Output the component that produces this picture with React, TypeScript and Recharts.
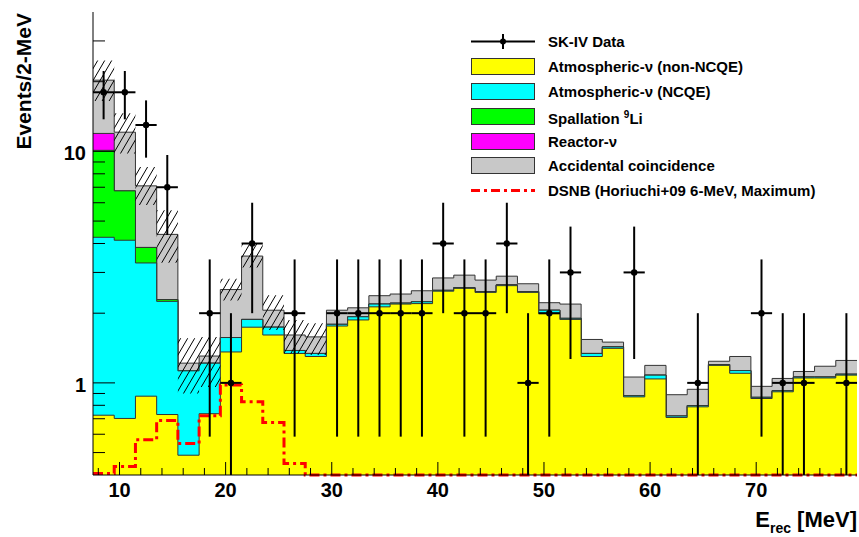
import React from 'react';
import { ComposedChart, Area, Line, Scatter, ErrorBar, XAxis, YAxis, Legend } from 'recharts';

const FONT = '"Liberation Sans", Arial, Helvetica, sans-serif';

// Reconstructed-energy bins (2 MeV wide, 7.5–79.5 MeV), given by their centres
const binCenters = [
  8.5, 10.5, 12.5, 14.5, 16.5, 18.5, 20.5, 22.5, 24.5, 26.5, 28.5, 30.5,
  32.5, 34.5, 36.5, 38.5, 40.5, 42.5, 44.5, 46.5, 48.5, 50.5, 52.5, 54.5,
  56.5, 58.5, 60.5, 62.5, 64.5, 66.5, 68.5, 70.5, 72.5, 74.5, 76.5, 78.5,
];
const BIN_HALF_WIDTH = 1;

// Expected background per bin, one array per component (stacked bottom to top)
const atmNonNCQE = [
  0.725, 0.702, 0.876, 0.73, 0.487, 0.736, 1.36, 1.74, 1.61, 1.34, 1.3, 1.76,
  1.87, 2.13, 2.19, 2.2, 2.49, 2.56, 2.46, 2.63, 2.46, 1.99, 1.88, 1.3,
  1.41, 0.87, 1.04, 0.709, 0.788, 1.19, 1.1, 0.856, 0.915, 1.05, 1.05, 1.08,
];
const atmNCQE = [
  3.53, 3.43, 2.42, 1.52, 0.64, 0.48, 0.21, 0.14, 0.13, 0.04, 0.04, 0.03,
  0.06, 0.06, 0.02, 0.04, 0.02, 0.02, 0.02, 0.02, 0.02, 0.07, 0.02, 0.04,
  0.02, 0.01, 0.04, 0.01, 0.01, 0.01, 0.03, 0.01, 0.01, 0.01, 0.01, 0.01,
];
const spallation9Li = [
  5.85, 2.62, 0.55, 0.04, 0, 0, 0, 0, 0, 0, 0, 0,
  0, 0, 0, 0, 0, 0, 0, 0, 0, 0, 0, 0,
  0, 0, 0, 0, 0, 0, 0, 0, 0, 0, 0, 0,
];
const reactorNu = [
  1.85, 0, 0, 0, 0, 0, 0, 0, 0, 0, 0, 0,
  0, 0, 0, 0, 0, 0, 0, 0, 0, 0, 0, 0,
  0, 0, 0, 0, 0, 0, 0, 0, 0, 0, 0, 0,
];
const accidental = [
  8.35, 5.35, 3.25, 2.09, 0.09, 0.09, 0.96, 1.65, 0.32, 0.23, 0.24, 0.27,
  0.18, 0.19, 0.21, 0.26, 0.33, 0.34, 0.3, 0.24, 0.2, 0.16, 0.29, 0.2,
  0.07, 0.18, 0.11, 0.17, 0.14, 0.04, 0.17, 0.1, 0.12, 0.06, 0.12, 0.16,
];

// DSNB prediction (Horiuchi+09, 6 MeV, maximum)
const dsnbPrediction = [
  0.406, 0.435, 0.568, 0.687, 0.547, 0.722, 0.98, 0.828, 0.675, 0.449, 0.4, 0.4,
  0.4, 0.4, 0.4, 0.4, 0.4, 0.4, 0.4, 0.4, 0.4, 0.4, 0.4, 0.4,
  0.4, 0.4, 0.4, 0.4, 0.4, 0.4, 0.4, 0.4, 0.4, 0.4, 0.4, 0.4,
];

// Systematic uncertainty band on the total background (first 11 bins)
const sysLow = [16.5, 9.8, 5.86, 3.3, 0.9, 0.96, 2.27, 3.15, 1.69, 1.34, 1.32];
const sysHigh = [24.7, 14.6, 8.57, 5.57, 1.56, 1.58, 2.82, 4.0, 2.39, 1.87, 1.81];

// Observed events (bins with zero events are not drawn on the log scale)
const dataCenters = [
  8.5, 10.5, 12.5, 14.5, 18.5, 20.5, 22.5, 26.5, 30.5, 32.5, 34.5, 36.5, 38.5,
  40.5, 42.5, 44.5, 46.5, 48.5, 50.5, 52.5, 58.5, 64.5, 70.5, 72.5, 74.5, 78.5,
];
const dataCounts = [
  18, 18, 13, 7, 2, 1, 4, 2, 2, 2, 2, 2, 2,
  4, 2, 2, 4, 1, 2, 3, 3, 1, 2, 1, 1, 1,
];

// Axis ticks and labels
const xTicks = [8, 10, 12, 14, 16, 18, 20, 22, 24, 26, 28, 30, 32, 34, 36, 38, 40, 42, 44, 46, 48, 50, 52, 54, 56, 58, 60, 62, 64, 66, 68, 70, 72, 74, 76, 78];
const xLabels = [10, 20, 30, 40, 50, 60, 70];
const yTicks = [0.5, 0.6, 0.7, 0.8, 0.9, 1, 2, 3, 4, 5, 6, 7, 8, 9, 10, 20, 30];
const yLabels = [1, 10];

const X_DOMAIN = [7.5, 79.5];
const Y_DOMAIN = [0.4, 40];

// Chart layout
const CHART_W = 859;
const CHART_H = 537;
const MARGIN = { top: 12, right: 2, bottom: 0, left: 0 };
const Y_AXIS_W = 93;
const X_AXIS_H = 62;
const PLOT = {
  left: MARGIN.left + Y_AXIS_W,
  top: MARGIN.top,
  width: CHART_W - MARGIN.left - MARGIN.right - Y_AXIS_W,
  height: CHART_H - MARGIN.top - MARGIN.bottom - X_AXIS_H,
};

const COLORS = {
  nonNCQE: '#ffff00',
  ncqe: '#00ffff',
  spallation: '#00ff00',
  reactor: '#ff00ff',
  accidental: '#c8c8c8',
  dsnb: '#ff0000',
  outline: '#333333',
};

// Histogram rows at the bin edges; the closing edge repeats the last bin so a
// step curve covers the full width.
const edges = [...binCenters.map((c) => c - BIN_HALF_WIDTH), binCenters[binCenters.length - 1] + BIN_HALF_WIDTH];
const histRows = edges.map((x, i) => {
  const k = Math.min(i, binCenters.length - 1);
  const yellowTop = atmNonNCQE[k];
  const cyanTop = yellowTop + atmNCQE[k];
  const greenTop = cyanTop + spallation9Li[k];
  const magentaTop = greenTop + reactorNu[k];
  const greyTop = magentaTop + accidental[k];
  return { x, yellowTop, cyanTop, greenTop, magentaTop, greyTop, dsnb: dsnbPrediction[k] };
});

const sysRows = edges.slice(0, sysLow.length + 1).map((x, i) => {
  const k = Math.min(i, sysLow.length - 1);
  return { x, band: [sysLow[k], sysHigh[k]] };
});

const pointRows = dataCenters.map((x, i) => {
  const n = dataCounts[i];
  const err = Math.sqrt(n);
  return {
    x,
    n,
    ey: [n - Math.max(n - err, Y_DOMAIN[0]), err],
    ex: BIN_HALF_WIDTH,
  };
});

// Frame tick positions: linear in energy, logarithmic in events
const tickX = (v: number) => PLOT.left + ((v - X_DOMAIN[0]) / (X_DOMAIN[1] - X_DOMAIN[0])) * PLOT.width;
const tickY = (v: number) =>
  PLOT.top + (Math.log10(Y_DOMAIN[1] / v) / Math.log10(Y_DOMAIN[1] / Y_DOMAIN[0])) * PLOT.height;

// Inward tick marks drawn over the filled histograms
const FrameTicks = () => (
  <svg
    width={CHART_W}
    height={CHART_H}
    style={{ position: 'absolute', left: 0, top: 0, pointerEvents: 'none' }}
  >
    {yTicks.map((v) => (
      <line
        key={`y${v}`}
        x1={PLOT.left}
        x2={PLOT.left + (yLabels.includes(v) ? 22 : 12)}
        y1={tickY(v)}
        y2={tickY(v)}
        stroke="#000"
        strokeWidth={1}
      />
    ))}
    {xTicks.map((t) => (
      <line
        key={`x${t}`}
        x1={tickX(t)}
        x2={tickX(t)}
        y1={PLOT.top + PLOT.height}
        y2={PLOT.top + PLOT.height - (xLabels.includes(t) ? 13 : 7)}
        stroke="#000"
        strokeWidth={1}
      />
    ))}
  </svg>
);

const XTick = (props: any) => {
  const { x, y, payload } = props;
  const v = payload.value as number;
  if (!xLabels.includes(v)) return <g />;
  return (
    <text x={x} y={y + 22} textAnchor="middle" fontFamily={FONT} fontWeight={700} fontSize={20} fill="#000">
      {v}
    </text>
  );
};

const YTick = (props: any) => {
  const { x, y, payload } = props;
  const v = payload.value as number;
  if (!yLabels.includes(v)) return <g />;
  return (
    <text x={x - 7} y={y + 9} textAnchor="end" fontFamily={FONT} fontWeight={700} fontSize={20} fill="#000">
      {v}
    </text>
  );
};

const yTitle = () => (
  <text
    x={31}
    y={13}
    transform="rotate(-90 31 13)"
    textAnchor="end"
    fontFamily={FONT}
    fontWeight={700}
    fontSize={21}
    fill="#000"
  >
    Events/2-MeV
  </text>
);

const xTitle = () => (
  <text x={857} y={527} textAnchor="end" fontFamily={FONT} fontWeight={700} fontSize={22} fill="#000">
    E
    <tspan fontSize={14} dy={6}>rec</tspan>
    <tspan dy={-6}> [MeV]</tspan>
  </text>
);

const renderPoint = (props: any) => {
  const { cx, cy } = props;
  return <circle cx={cx} cy={cy} r={3.2} fill="#000" />;
};

type LegendRow = { kind: 'data' | 'box' | 'dash'; color?: string; label: React.ReactNode };
const legendRows: LegendRow[] = [
  { kind: 'data', label: 'SK-IV Data' },
  { kind: 'box', color: COLORS.nonNCQE, label: 'Atmospheric-ν (non-NCQE)' },
  { kind: 'box', color: COLORS.ncqe, label: 'Atmospheric-ν (NCQE)' },
  {
    kind: 'box',
    color: COLORS.spallation,
    label: (
      <>
        Spallation <sup style={{ fontSize: 10, verticalAlign: 6 }}>9</sup>Li
      </>
    ),
  },
  { kind: 'box', color: COLORS.reactor, label: 'Reactor-ν' },
  { kind: 'box', color: COLORS.accidental, label: 'Accidental coincidence' },
  { kind: 'dash', color: COLORS.dsnb, label: 'DSNB (Horiuchi+09 6-MeV, Maximum)' },
];

const LegendSymbol = ({ row }: { row: LegendRow }) => (
  <svg width={64} height={17} style={{ flex: 'none', display: 'block' }}>
    {row.kind === 'box' && (
      <rect x={0.5} y={0.5} width={63} height={16} fill={row.color} stroke={COLORS.outline} strokeWidth={1} />
    )}
    {row.kind === 'data' && (
      <g>
        <line x1={0} x2={64} y1={8.5} y2={8.5} stroke="#000" strokeWidth={2} />
        <line x1={32} x2={32} y1={1} y2={16} stroke="#000" strokeWidth={2} />
        <circle cx={32} cy={8.5} r={3} fill="#000" />
      </g>
    )}
    {row.kind === 'dash' && (
      <line x1={0} x2={64} y1={8.5} y2={8.5} stroke={row.color} strokeWidth={3} strokeDasharray="9 4 3 4" />
    )}
  </svg>
);

const renderLegend = () => (
  <div style={{ fontFamily: FONT, fontWeight: 700, fontSize: 15, color: '#000' }}>
    {legendRows.map((row, i) => (
      <div key={i} style={{ display: 'flex', alignItems: 'center', height: 24.9 }}>
        <LegendSymbol row={row} />
        <span style={{ marginLeft: 13, whiteSpace: 'nowrap', lineHeight: '17px' }}>{row.label}</span>
      </div>
    ))}
  </div>
);

const areaCommon = {
  type: 'stepAfter' as const,
  fillOpacity: 1,
  stroke: COLORS.outline,
  strokeWidth: 1,
  isAnimationActive: false,
  dot: false,
  activeDot: false,
};

export default function App() {
  return (
    <div style={{ position: 'absolute', left: 0, top: 0, width: CHART_W, height: CHART_H, background: '#fff' }}>
      <ComposedChart width={CHART_W} height={CHART_H} data={histRows} margin={MARGIN}>
        <defs>
          <pattern id="sysHatch" patternUnits="userSpaceOnUse" width={7} height={12}>
            <line x1={0} y1={12} x2={7} y2={0} stroke="#000" strokeWidth={1} />
            <line x1={-7} y1={12} x2={0} y2={0} stroke="#000" strokeWidth={1} />
            <line x1={7} y1={12} x2={14} y2={0} stroke="#000" strokeWidth={1} />
          </pattern>
        </defs>

        <XAxis
          dataKey="x"
          type="number"
          domain={X_DOMAIN}
          ticks={xTicks}
          interval={0}
          height={X_AXIS_H}
          tickSize={0}
          tickMargin={0}
          tickLine={false}
          tick={<XTick />}
          axisLine={{ stroke: '#000', strokeWidth: 1 }}
          label={xTitle}
        />
        <XAxis
          xAxisId="frameTop"
          orientation="top"
          type="number"
          domain={X_DOMAIN}
          height={0}
          tick={false}
          tickLine={false}
          axisLine={{ stroke: '#000', strokeWidth: 1 }}
        />
        <YAxis
          type="number"
          scale="log"
          domain={Y_DOMAIN}
          ticks={yTicks}
          interval={0}
          width={Y_AXIS_W}
          tickSize={0}
          tickMargin={0}
          tickLine={false}
          tick={<YTick />}
          axisLine={{ stroke: '#000', strokeWidth: 1 }}
          label={yTitle}
        />
        <YAxis
          yAxisId="frameRight"
          orientation="right"
          type="number"
          domain={[0, 1]}
          width={0}
          tick={false}
          tickLine={false}
          axisLine={{ stroke: '#000', strokeWidth: 1 }}
        />

        {/* stacked background histograms, drawn from the total downwards */}
        <Area {...areaCommon} dataKey="greyTop" fill={COLORS.accidental} />
        <Area {...areaCommon} dataKey="magentaTop" fill={COLORS.reactor} />
        <Area {...areaCommon} dataKey="greenTop" fill={COLORS.spallation} />
        <Area {...areaCommon} dataKey="cyanTop" fill={COLORS.ncqe} />
        <Area {...areaCommon} dataKey="yellowTop" fill={COLORS.nonNCQE} />

        {/* systematic uncertainty on the total background */}
        <Area data={sysRows} type="stepAfter" dataKey="band" fill="url(#sysHatch)" fillOpacity={1} stroke="none" isAnimationActive={false} dot={false} activeDot={false} />

        <Line type="stepAfter" dataKey="dsnb" stroke={COLORS.dsnb} strokeWidth={3} strokeDasharray="10 4 3 4" dot={false} activeDot={false} isAnimationActive={false} />

        <Scatter data={pointRows} dataKey="n" shape={renderPoint} isAnimationActive={false}>
          <ErrorBar dataKey="ey" direction="y" width={0} stroke="#000" strokeWidth={2} isAnimationActive={false} />
          <ErrorBar dataKey="ex" direction="x" width={0} stroke="#000" strokeWidth={2} isAnimationActive={false} />
        </Scatter>

        <Legend
          layout="vertical"
          align="center"
          verticalAlign="middle"
          content={renderLegend}
          wrapperStyle={{ left: 471, top: 29, width: 380, height: 'auto' }}
        />
      </ComposedChart>
      <FrameTicks />
    </div>
  );
}
